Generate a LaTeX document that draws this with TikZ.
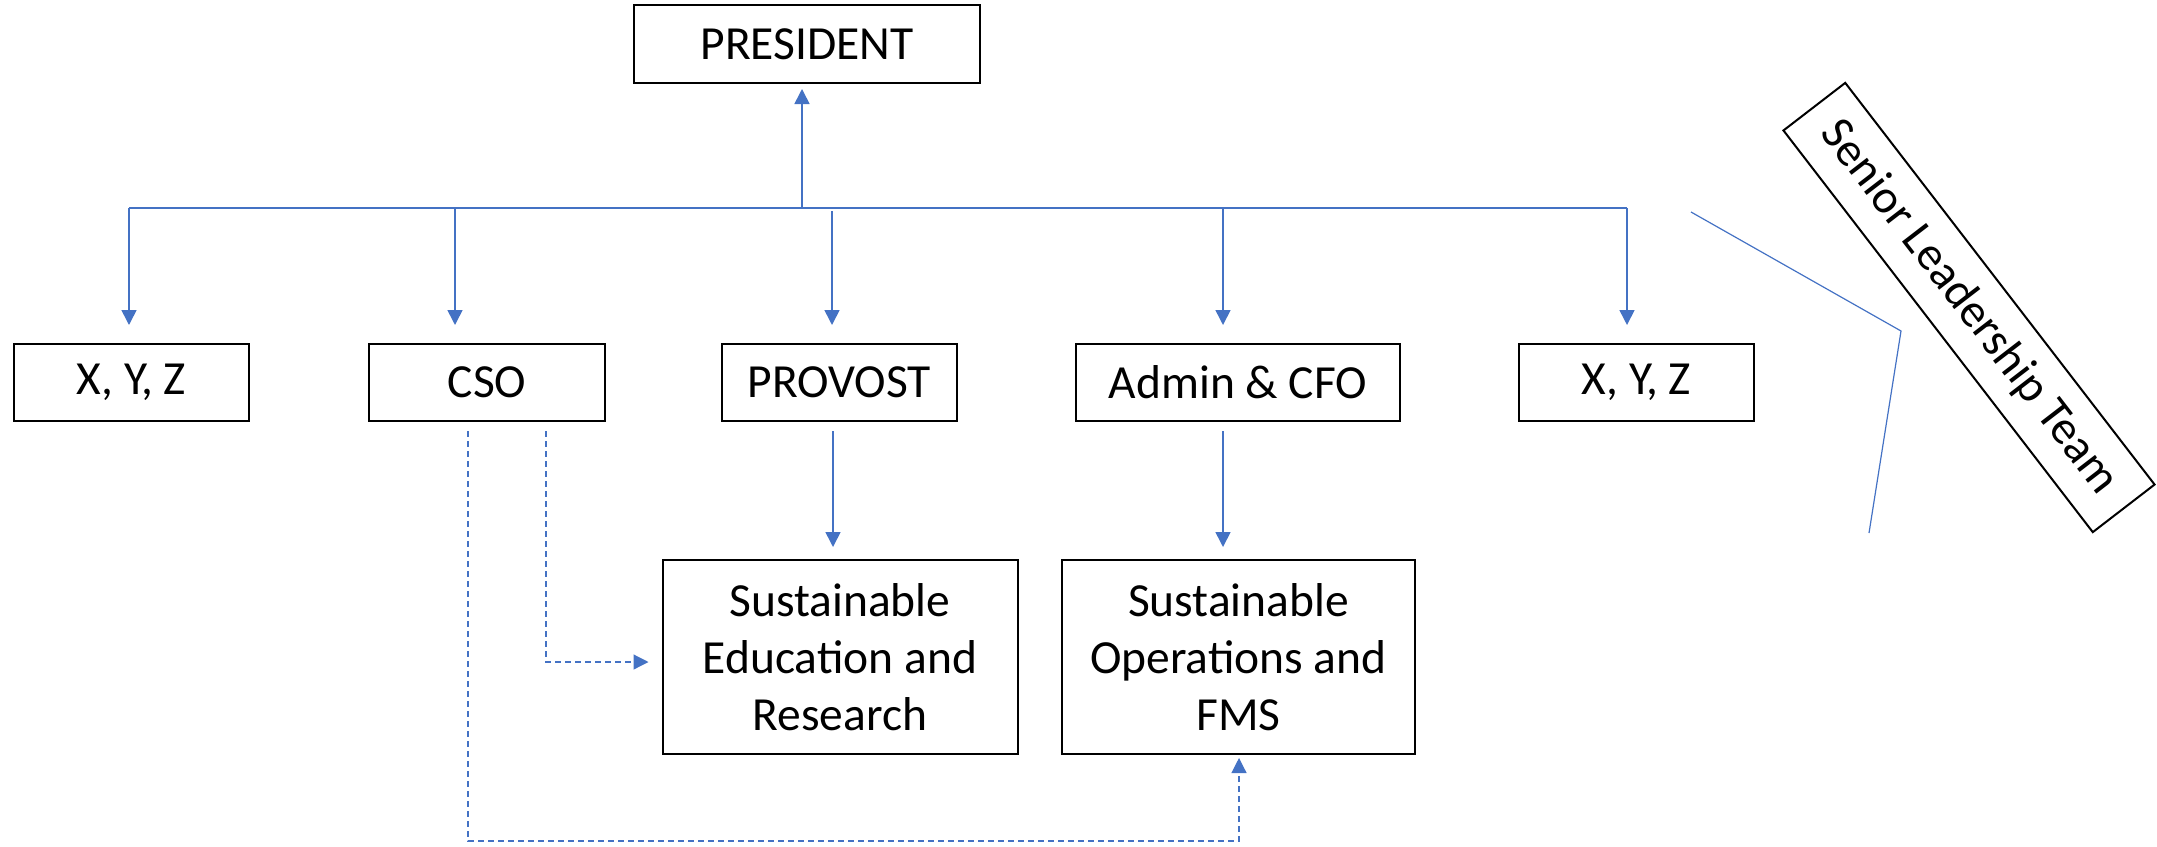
\documentclass[tikz,border=0pt]{standalone}
\usepackage{fontspec}
\setmainfont{Carlito}
\usetikzlibrary{arrows.meta}
\definecolor{lineblue}{HTML}{4472C4}
\begin{document}
\begin{tikzpicture}[x=1pt,y=-1pt,
  box/.style={draw=black,line width=2pt,inner sep=0pt,minimum height=77pt,
    font=\fontsize{47.5}{57}\selectfont,align=center},
  conn/.style={draw=lineblue,line width=1.6pt,-{Triangle[width=15pt,length=15pt]}},
  dconn/.style={conn,dash pattern=on 6pt off 4pt,line width=1.2pt},
  bus/.style={draw=lineblue,line width=1.6pt}]
\useasboundingbox (0,0) rectangle (2157,846);
% nodes
\node[box,minimum width=346pt,minimum height=78pt] (pres) at (807,44) {PRESIDENT};
\node[box,minimum width=235pt] (xyz1) at (131.5,382.5) {X, Y, Z};
\node[box,minimum width=236pt] (cso) at (487,382.5) {CSO};
\node[box,minimum width=235pt] (prov) at (839.5,382.5) {PROVOST};
\node[box,minimum width=324pt] (cfo) at (1238,382.5) {Admin \& CFO};
\node[box,minimum width=235pt] (xyz2) at (1636.5,382.5) {X, Y, Z};
\node[box,minimum width=355pt,minimum height=194pt] (sed) at (840,657) {Sustainable\\Education and\\Research};
\node[box,minimum width=353pt,minimum height=194pt] (sops) at (1238.5,657) {Sustainable\\Operations and\\FMS};
\node[box,minimum width=507pt,minimum height=78pt,rotate=-52.4] (slt) at (1969,307.5) {Senior Leadership Team};
% bus
\coordinate (bL) at (129,208);
\coordinate (bP) at (802,208);
\coordinate (bC) at (455,208);
\coordinate (bV) at (832,208);
\coordinate (bA) at (1223,208);
\coordinate (bR) at (1627,208);
\draw[bus] (bL) -- (bR);
\draw[conn,shorten >=5pt] (bP) -- (bP |- pres.south);
\draw[conn,shorten >=18pt] (bL) -- (bL |- xyz1.north);
\draw[conn,shorten >=18pt] (bC) -- (bC |- cso.north);
\draw[conn,shorten >=18pt,shorten <=3pt] (bV) -- (bV |- prov.north);
\draw[conn,shorten >=18pt] (bA) -- (bA |- cfo.north);
\draw[conn,shorten >=18pt] (bR) -- (bR |- xyz2.north);
% second level
\coordinate (pv) at (833,421);
\coordinate (cf) at (1223,421);
\draw[conn,shorten <=10pt,shorten >=12pt] (pv) -- (pv |- sed.north);
\draw[conn,shorten <=10pt,shorten >=12pt] (cf) -- (cf |- sops.north);
% dashed CSO links
\coordinate (c1) at (546,421);
\coordinate (c2) at (468,421);
\coordinate (c1b) at (546,662);
\coordinate (c2b) at (468,841);
\coordinate (opsb) at (1239,841);
\draw[dconn,shorten <=10pt,shorten >=13pt] (c1) -- (c1b) -- (c1b -| sed.west);
\draw[dconn,shorten <=10pt,shorten >=3pt] (c2) -- (c2b) -- (opsb) -- (opsb |- sops.south);
% bracket
\coordinate (k1) at (1691,212);
\coordinate (k2) at (1901,331);
\coordinate (k3) at (1869,533);
\draw[draw=lineblue,line width=1.2pt] (k1) -- (k2) -- (k3);
\end{tikzpicture}
\end{document}
